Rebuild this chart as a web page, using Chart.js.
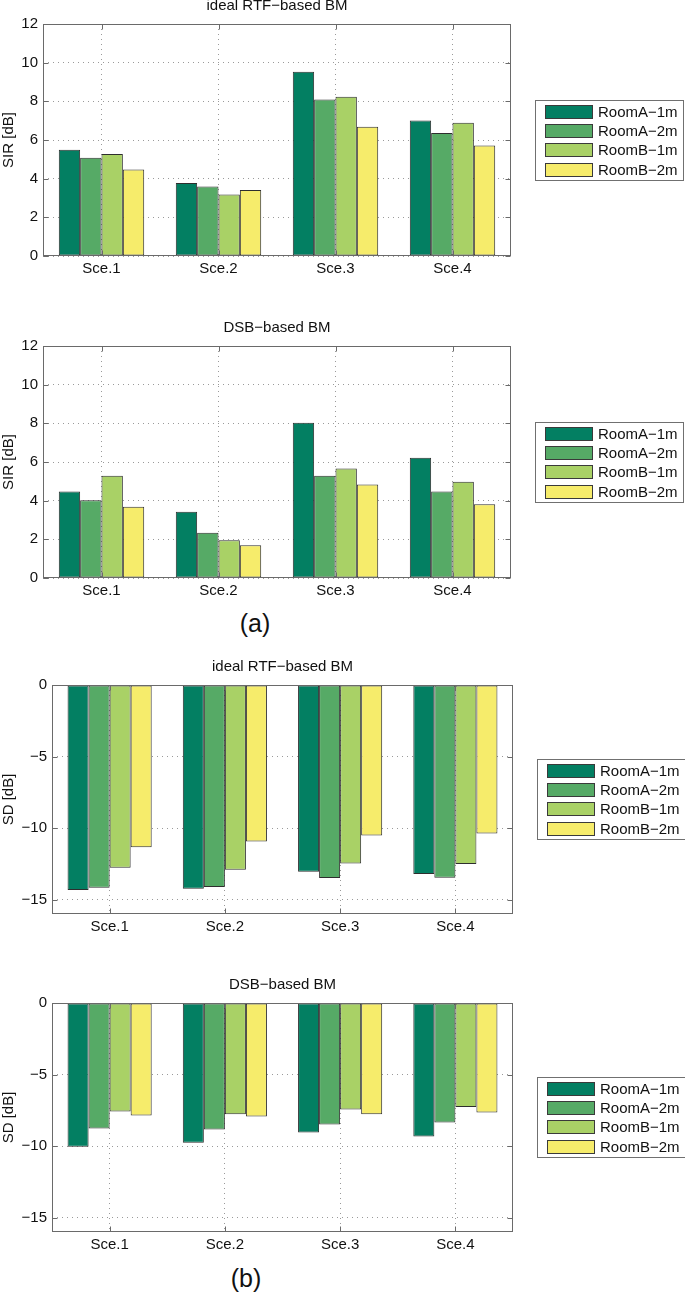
<!DOCTYPE html>
<html><head><meta charset="utf-8">
<script src="https://cdn.jsdelivr.net/npm/chart.js@4/dist/chart.umd.min.js"></script>
<style>
html,body{margin:0;padding:0;background:#fff;width:685px;height:1293px;overflow:hidden;position:relative;font-family:"Liberation Sans",Arial,sans-serif}
canvas{position:absolute;left:0}
.lab{position:absolute;font-size:25px;color:#111;transform:translate(-50%,-50%);line-height:1}
</style></head><body>
<canvas id="c1" width="685" height="289" style="top:-3px"></canvas>
<canvas id="c2" width="685" height="289" style="top:319px"></canvas>
<canvas id="c3" width="685" height="286" style="top:658px"></canvas>
<canvas id="c4" width="685" height="286" style="top:976px"></canvas>
<div class="lab" style="left:255px;top:623px">(a)</div>
<div class="lab" style="left:246px;top:1278px">(b)</div>
<script>
// ---- data ----
const categories = ['Sce.1', 'Sce.2', 'Sce.3', 'Sce.4'];
const seriesNames = ['RoomA\u22121m', 'RoomA\u22122m', 'RoomB\u22121m', 'RoomB\u22122m'];

const sirIdeal_A1 = [5.49, 3.77, 9.53, 7.01];
const sirIdeal_A2 = [5.08, 3.59, 8.10, 6.36];
const sirIdeal_B1 = [5.28, 3.18, 8.24, 6.89];
const sirIdeal_B2 = [4.47, 3.42, 6.68, 5.72];

const sirDSB_A1 = [4.48, 3.43, 8.03, 6.22];
const sirDSB_A2 = [4.02, 2.34, 5.29, 4.48];
const sirDSB_B1 = [5.29, 1.95, 5.67, 4.98];
const sirDSB_B2 = [3.69, 1.69, 4.84, 3.81];

const sdIdeal_A1 = [-14.32, -14.23, -13.04, -13.20];
const sdIdeal_A2 = [-14.16, -14.11, -13.48, -13.46];
const sdIdeal_B1 = [-12.76, -12.90, -12.48, -12.50];
const sdIdeal_B2 = [-11.34, -10.94, -10.52, -10.38];

const sdDSB_A1 = [-10.05, -9.77, -9.05, -9.33];
const sdDSB_A2 = [-8.77, -8.84, -8.49, -8.35];
const sdDSB_B1 = [-7.58, -7.77, -7.44, -7.26];
const sdDSB_B2 = [-7.86, -7.93, -7.77, -7.65];

const sirTicks = [0, 2, 4, 6, 8, 10, 12];
const sdTicks = [-15, -10, -5, 0];

// ---- styles ----
const seriesColors = ['#037f62', '#56aa66', '#a9d166', '#f6ec6b'];
const FONT = '"Liberation Sans", Arial, sans-serif';
Chart.defaults.font.family = FONT;
Chart.defaults.font.size = 15;
Chart.defaults.color = '#111';

const framePlugin = {
  id: 'frame',
  afterDraw(chart) {
    const { ctx, chartArea: a, scales } = chart;
    ctx.save();
    ctx.setLineDash([]);
    ctx.strokeStyle = '#6a6a6a';
    ctx.lineWidth = 1;
    const L = Math.round(a.left) + 0.5, R = Math.round(a.right) - 0.5;
    const T = Math.round(a.top) + 0.5, B = Math.round(a.bottom) - 0.5;
    ctx.strokeRect(L, T, R - L, B - T);
    ctx.beginPath();
    scales.y.ticks.forEach(t => {
      const y = Math.round(scales.y.getPixelForValue(t.value)) + 0.5;
      ctx.moveTo(L, y); ctx.lineTo(L + 5, y);
      ctx.moveTo(R, y); ctx.lineTo(R - 5, y);
    });
    scales.x.ticks.forEach((t, i) => {
      const x = Math.round(scales.x.getPixelForTick(i)) + 0.5;
      ctx.moveTo(x, B); ctx.lineTo(x, B - 5);
      ctx.moveTo(x, T); ctx.lineTo(x, T + 5);
    });
    ctx.stroke();
    // legend
    const bw = 149, bh = 81;
    const bx = Math.round(a.right) + 24;
    const by = Math.round((a.top + a.bottom) / 2 - bh / 2);
    ctx.fillStyle = '#fff';
    ctx.fillRect(bx, by, bw, bh);
    ctx.strokeStyle = '#707070';
    ctx.strokeRect(bx + 0.5, by + 0.5, bw - 1, bh - 1);
    ctx.font = '15px ' + FONT;
    ctx.textBaseline = 'middle';
    chart.data.datasets.forEach((ds, i) => {
      const sy = Math.round(by + 5 + i * 19.2);
      ctx.fillStyle = ds.backgroundColor;
      ctx.fillRect(bx + 10, sy, 48, 14);
      ctx.strokeStyle = '#3a3a3a';
      ctx.strokeRect(bx + 10.5, sy + 0.5, 47, 13);
      ctx.fillStyle = '#111';
      ctx.fillText(ds.label, bx + 63, sy + 7.5);
    });
    ctx.restore();
  }
};

function fmt(v) { return v < 0 ? '\u2212' + Math.abs(v) : String(v); }

function makeChart(id, seriesData, title, yTitle, tickVals, yMin, yMax, yWidth, plotRight) {
  const ctx = document.getElementById(id);
  return new Chart(ctx, {
    type: 'bar',
    data: {
      labels: categories,
      datasets: seriesData.map((d, i) => ({
        label: seriesNames[i],
        data: d,
        backgroundColor: seriesColors[i],
        borderColor: '#2e2e2e',
        borderWidth: 1,
        borderSkipped: false,
        categoryPercentage: 0.73,
        barPercentage: 1.0
      }))
    },
    options: {
      responsive: false,
      animation: false,
      devicePixelRatio: 1,
      layout: { padding: { left: 0, right: 685 - plotRight, top: 0, bottom: 0 } },
      plugins: {
        legend: { display: false },
        tooltip: { enabled: false },
        title: {
          display: true, text: title, fullSize: false,
          font: { size: 15, weight: 'normal' }, color: '#111',
          padding: { top: 0, bottom: 9 }
        }
      },
      scales: {
        x: {
          grid: { offset: false, color: '#9a9a9a', lineWidth: 1, drawTicks: false },
          border: { display: false, dash: [1, 4] },
          ticks: { padding: 4, color: '#111', font: { size: 15 } },
          afterFit(s) { s.height = 30; }
        },
        y: {
          min: yMin, max: yMax,
          grid: { color: '#9a9a9a', lineWidth: 1, drawTicks: false },
          border: { display: false, dash: [1, 4] },
          ticks: { padding: 5, color: '#111', font: { size: 15 }, callback: v => fmt(v) },
          afterBuildTicks(s) { s.ticks = tickVals.map(v => ({ value: v })); },
          title: { display: true, text: yTitle, font: { size: 15 }, color: '#111', padding: 0 },
          afterFit(s) { s.width = yWidth; }
        }
      }
    },
    plugins: [framePlugin]
  });
}

makeChart('c1', [sirIdeal_A1, sirIdeal_A2, sirIdeal_B1, sirIdeal_B2], 'ideal RTF\u2212based BM', 'SIR [dB]', sirTicks, 0, 12, 43, 511);
makeChart('c2', [sirDSB_A1, sirDSB_A2, sirDSB_B1, sirDSB_B2], 'DSB\u2212based BM', 'SIR [dB]', sirTicks, 0, 12, 43, 511);
makeChart('c3', [sdIdeal_A1, sdIdeal_A2, sdIdeal_B1, sdIdeal_B2], 'ideal RTF\u2212based BM', 'SD [dB]', sdTicks, -16, 0, 52, 513);
makeChart('c4', [sdDSB_A1, sdDSB_A2, sdDSB_B1, sdDSB_B2], 'DSB\u2212based BM', 'SD [dB]', sdTicks, -16, 0, 52, 513);
</script>
</body></html>
